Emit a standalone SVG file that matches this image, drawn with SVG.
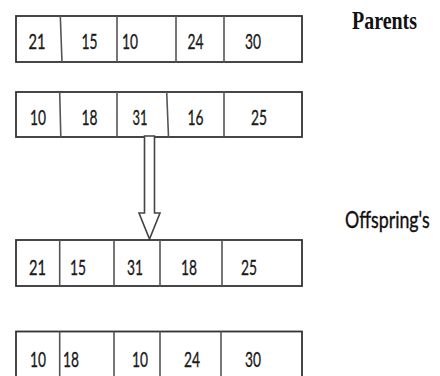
<svg xmlns="http://www.w3.org/2000/svg" width="440" height="376" viewBox="0 0 440 376">
<style>
.box{fill:#fff;stroke:#333;stroke-width:1.8}
.div{stroke:#555;stroke-width:1.6}
.num{font-family:Lato,"Liberation Sans",sans-serif;font-size:22px;fill:#1a1a1a;stroke:#1a1a1a;stroke-width:0.35;text-anchor:middle}
.lbl1{font-family:"Liberation Serif",serif;font-weight:bold;font-size:26px;fill:#111}
.lbl2{font-family:Lato,"Liberation Sans",sans-serif;font-size:24px;fill:#111;stroke:#111;stroke-width:0.4}
.arrow{fill:#fff;stroke:#444;stroke-width:1.6;stroke-linejoin:miter}
</style>
<g id="parent1">
<rect class="box" x="16" y="16" width="286" height="46"/>
<line class="div" x1="60.3" y1="16" x2="62" y2="62"/>
<line class="div" x1="117" y1="16" x2="117" y2="62"/>
<line class="div" x1="176" y1="16" x2="176" y2="62"/>
<line class="div" x1="224" y1="16" x2="224" y2="62"/>
<text class="num" x="37" y="49" textLength="17" lengthAdjust="spacingAndGlyphs">21</text>
<text class="num" x="89.5" y="49" textLength="16" lengthAdjust="spacingAndGlyphs">15</text>
<text class="num" x="130" y="49" textLength="16" lengthAdjust="spacingAndGlyphs">10</text>
<text class="num" x="195.5" y="49" textLength="16" lengthAdjust="spacingAndGlyphs">24</text>
<text class="num" x="253" y="49" textLength="16" lengthAdjust="spacingAndGlyphs">30</text>
</g>
<g id="parent2">
<rect class="box" x="16" y="92" width="286" height="45"/>
<line class="div" x1="59.7" y1="92" x2="60.8" y2="137"/>
<line class="div" x1="117" y1="92" x2="117" y2="137"/>
<line class="div" x1="166.7" y1="92" x2="168.5" y2="137"/>
<line class="div" x1="224" y1="92" x2="224" y2="137"/>
<text class="num" x="38" y="125" textLength="16" lengthAdjust="spacingAndGlyphs">10</text>
<text class="num" x="89.5" y="125" textLength="16" lengthAdjust="spacingAndGlyphs">18</text>
<text class="num" x="140" y="125" textLength="15" lengthAdjust="spacingAndGlyphs">31</text>
<text class="num" x="195.5" y="125" textLength="16" lengthAdjust="spacingAndGlyphs">16</text>
<text class="num" x="259" y="125" textLength="16" lengthAdjust="spacingAndGlyphs">25</text>
</g>
<g id="connectors">
<polygon class="arrow" points="144.5,136 154.5,136 154.5,213 160,213 149.5,239 139,213 144.5,213"/>
</g>
<g id="offspring1">
<rect class="box" x="16" y="240" width="286" height="46"/>
<line class="div" x1="59.7" y1="240" x2="59.7" y2="286"/>
<line class="div" x1="114" y1="240" x2="114" y2="286"/>
<line class="div" x1="160" y1="240" x2="160" y2="286"/>
<line class="div" x1="222" y1="240" x2="222" y2="286"/>
<text class="num" x="37.5" y="275" textLength="17" lengthAdjust="spacingAndGlyphs">21</text>
<text class="num" x="78" y="275" textLength="16" lengthAdjust="spacingAndGlyphs">15</text>
<text class="num" x="135" y="275" textLength="16" lengthAdjust="spacingAndGlyphs">31</text>
<text class="num" x="189" y="275" textLength="16" lengthAdjust="spacingAndGlyphs">18</text>
<text class="num" x="249" y="275" textLength="16" lengthAdjust="spacingAndGlyphs">25</text>
</g>
<g id="offspring2">
<rect class="box" x="16" y="331.5" width="286" height="46"/>
<line class="div" x1="59.7" y1="331.5" x2="59.7" y2="377"/>
<line class="div" x1="114" y1="331.5" x2="114" y2="377"/>
<line class="div" x1="160" y1="331.5" x2="160" y2="377"/>
<line class="div" x1="221" y1="331.5" x2="221" y2="377"/>
<text class="num" x="38" y="367" textLength="16" lengthAdjust="spacingAndGlyphs">10</text>
<text class="num" x="71" y="367" textLength="16" lengthAdjust="spacingAndGlyphs">18</text>
<text class="num" x="140" y="367" textLength="16" lengthAdjust="spacingAndGlyphs">10</text>
<text class="num" x="192" y="367" textLength="16" lengthAdjust="spacingAndGlyphs">24</text>
<text class="num" x="253" y="367" textLength="16" lengthAdjust="spacingAndGlyphs">30</text>
</g>
<g id="labels">
<text class="lbl1" x="352" y="29" textLength="65" lengthAdjust="spacingAndGlyphs">Parents</text>
<text class="lbl2" transform="translate(345,228) scale(0.75,1)" x="0" y="0" textLength="113" lengthAdjust="spacingAndGlyphs">Offspring's</text>
</g>
</svg>
